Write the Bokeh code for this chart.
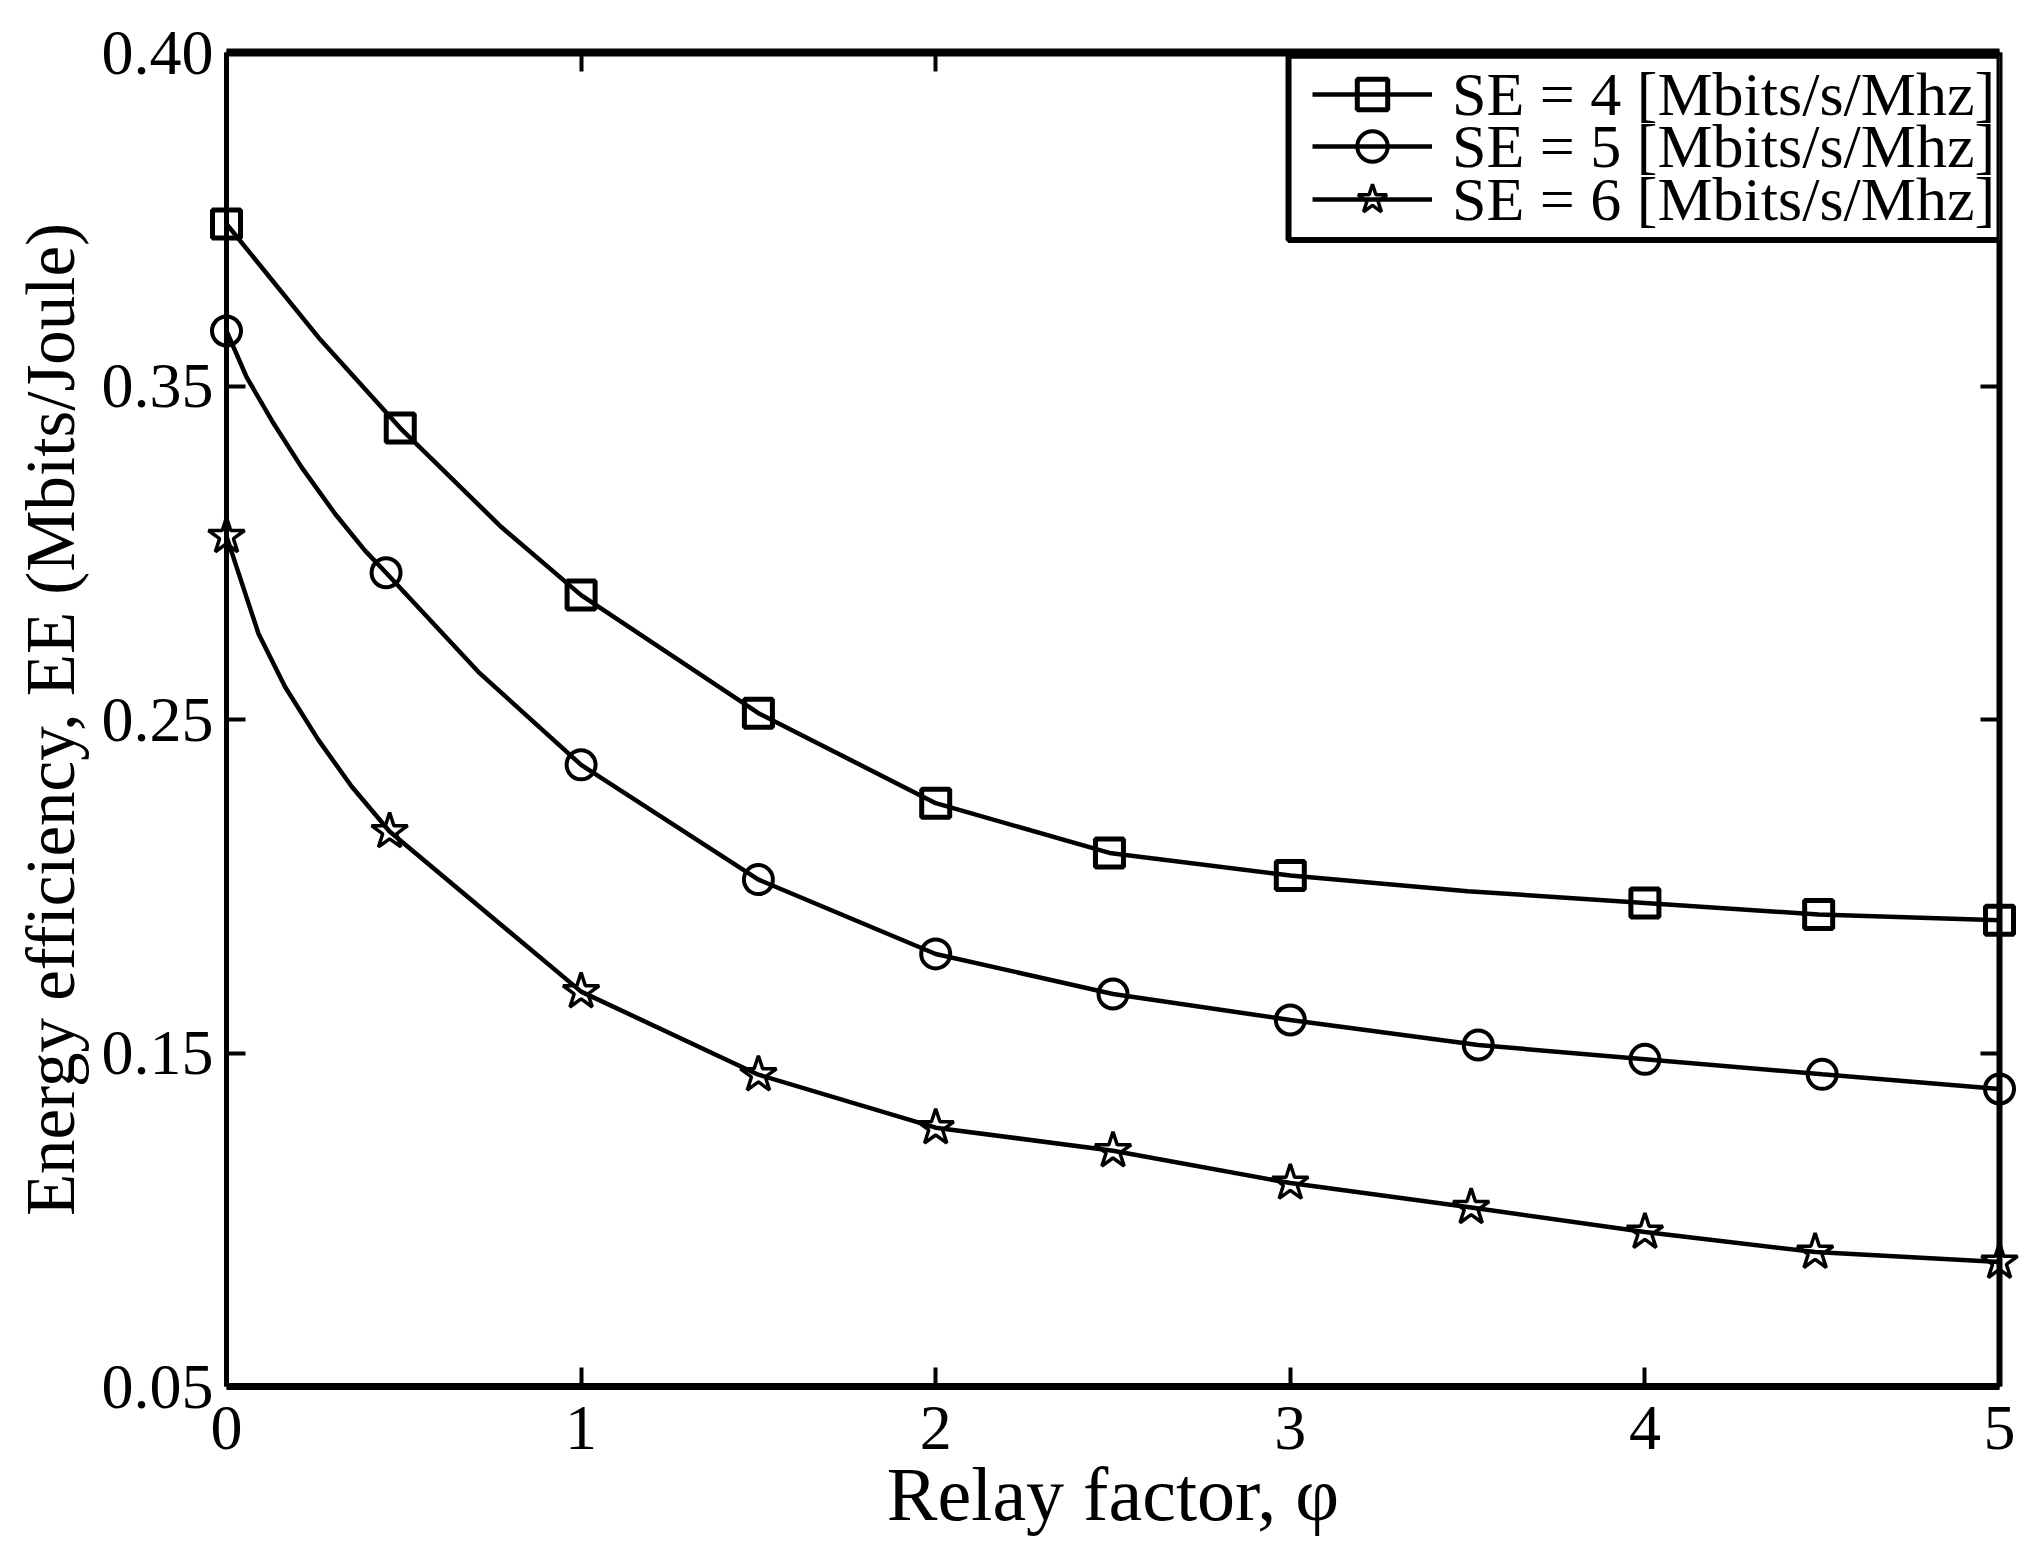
from bokeh.plotting import figure
from bokeh.models import (LinearAxis, FixedTicker, Legend, LegendItem,
                          BoxAnnotation, Range1d)
from bokeh.embed import file_html
from bokeh.resources import INLINE

# ---------------- data ----------------
# marker positions
se4_x = [0.0, 0.49, 1.0, 1.5, 2.0, 2.49, 3.0, 4.0, 4.49, 5.0]
se4_y = [0.3986, 0.3374, 0.2873, 0.2519, 0.2249, 0.2100, 0.2032, 0.1950, 0.1915, 0.1898]

se5_x = [0.0, 0.45, 1.0, 1.5, 2.0, 2.5, 3.0, 3.53, 4.0, 4.5, 5.0]
se5_y = [0.3665, 0.2940, 0.2364, 0.2020, 0.1797, 0.1677, 0.1599, 0.1524, 0.1481, 0.1436, 0.1392]

se6_x = [0.0, 0.46, 1.0, 1.5, 2.0, 2.5, 3.0, 3.51, 4.0, 4.48, 5.0]
se6_y = [0.3049, 0.2164, 0.1684, 0.1435, 0.1276, 0.1207, 0.1110, 0.1037, 0.0963, 0.0903, 0.0873]

# points (markers plus extra points read between them)
curve4_x = [0.0, 0.26, 0.49, 0.775, 1.0, 1.5, 2.0, 2.49, 3.0, 3.5, 4.0, 4.49, 5.0]
curve4_y = [0.3986, 0.3645, 0.3374, 0.3077, 0.2873, 0.2519, 0.2249, 0.2100, 0.2032, 0.1985, 0.1950, 0.1915, 0.1898]

curve5_x = [0.0, 0.057, 0.128, 0.212, 0.306, 0.39, 0.45, 0.71, 1.0, 1.5, 2.0, 2.5, 3.0, 3.53, 4.0, 4.5, 5.0]
curve5_y = [0.3665, 0.3526, 0.3396, 0.3256, 0.3117, 0.3007, 0.2940, 0.2643, 0.2364, 0.2020, 0.1797, 0.1677,
            0.1599, 0.1524, 0.1481, 0.1436, 0.1392]

curve6_x = [0.0, 0.09, 0.165, 0.259, 0.353, 0.46, 1.0, 1.5, 2.0, 2.5, 3.0, 3.51, 4.0, 4.48, 5.0]
curve6_y = [0.3049, 0.2758, 0.2598, 0.2439, 0.2299, 0.2164, 0.1684, 0.1435, 0.1276, 0.1207, 0.1110,
            0.1037, 0.0963, 0.0903, 0.0873]

series_labels = ["SE = 4 [Mbits/s/Mhz]", "SE = 5 [Mbits/s/Mhz]", "SE = 6 [Mbits/s/Mhz]"]

x_ticks = [0, 1, 2, 3, 4, 5]
x_tick_labels = ["0", "1", "2", "3", "4", "5"]
y_ticks = [0.05, 0.15, 0.25, 0.35, 0.45]
y_tick_labels = ["0.05", "0.15", "0.25", "0.35", "0.40"]

x_title = "Relay factor, φ"
y_title = "Energy efficiency, EE (Mbits/Joule)"

# ---------------- figure ----------------
FONT = "Liberation Serif"
FW, FH = 1773, 1334

p = figure(frame_width=FW, frame_height=FH,
           x_range=Range1d(0, 5), y_range=Range1d(0.05, 0.45),
           output_backend="svg", toolbar_location=None,
           min_border_left=226, min_border_right=20,
           min_border_top=52, min_border_bottom=150)
p.outline_line_color = None
p.grid.grid_line_color = None
p.background_fill_color = "white"
p.border_fill_color = "white"


def style_axis(ax, ticks, labels, lw, show):
    ax.ticker = FixedTicker(ticks=ticks)
    ax.axis_line_width = lw
    ax.axis_line_color = "black"
    ax.major_tick_in = 19
    ax.major_tick_out = 0
    ax.major_tick_line_width = 4
    ax.major_tick_line_color = "black"
    ax.minor_tick_line_color = None
    ax.major_label_text_font = FONT
    if show:
        ax.major_label_overrides = {t: s for t, s in zip(ticks, labels)}
        ax.major_label_text_font_size = "64px"
        ax.major_label_text_color = "black"
    else:
        ax.major_label_text_font_size = "0px"
        ax.major_label_text_color = None
        ax.major_label_standoff = 0


xb = p.xaxis[0]
yl = p.yaxis[0]
style_axis(xb, x_ticks, x_tick_labels, 7, True)
style_axis(yl, y_ticks, y_tick_labels, 5, True)
xb.major_label_standoff = 20
yl.major_label_standoff = 13

xb.axis_label = x_title
xb.axis_label_text_font = FONT
xb.axis_label_text_font_style = "normal"
xb.axis_label_text_font_size = "76px"
xb.axis_label_text_color = "black"
xb.axis_label_standoff = 0

yl.axis_label = y_title
yl.axis_label_text_font = FONT
yl.axis_label_text_font_style = "normal"
yl.axis_label_text_font_size = "69px"
yl.axis_label_text_color = "black"
yl.axis_label_standoff = 10

xt = LinearAxis()
style_axis(xt, x_ticks, x_tick_labels, 8, False)
p.add_layout(xt, "above")
yr = LinearAxis()
style_axis(yr, y_ticks, y_tick_labels, 6, False)
p.add_layout(yr, "right")

# ---------------- series ----------------
l4 = p.line(curve4_x, curve4_y, line_color="black", line_width=4.5)
l5 = p.line(curve5_x, curve5_y, line_color="black", line_width=4.5)
l6 = p.line(curve6_x, curve6_y, line_color="black", line_width=4.5)

m4 = p.scatter(se4_x, se4_y, marker="square", size=28, line_color="black",
               line_width=5, fill_color=None, level="overlay")
m5 = p.scatter(se5_x, se5_y, marker="circle", size=29, line_color="black",
               line_width=4, fill_color=None, level="overlay")
m6 = p.scatter(se6_x, se6_y, marker="star", size=38, line_color="black",
               line_width=3.5, fill_color=None, level="overlay")

# ---------------- legend ----------------
box = BoxAnnotation(left=2.995, right=5.0, top=0.449, bottom=0.3938,
                    fill_color="white", fill_alpha=1.0,
                    line_color="black", line_width=6, line_alpha=1.0)
p.add_layout(box)

row_offsets = [42, 94, 147]   # px below the frame top
GH = 76
for lab, rs, off in zip(series_labels, [[l4, m4], [l5, m5], [l6, m6]], row_offsets):
    lg = Legend(items=[LegendItem(label=lab, renderers=rs)],
                location=(1086, FH - off - GH // 2),
                glyph_width=120, glyph_height=GH, label_height=GH,
                label_standoff=20, padding=0, margin=0, spacing=0,
                border_line_alpha=0, background_fill_alpha=0,
                label_text_font=FONT, label_text_font_size="62px",
                label_text_color="black")
    p.add_layout(lg)

html = file_html(p, INLINE)
html = html.replace("</head>", "<style>html, body { overflow: hidden; }</style></head>", 1)
open("out.html", "w").write(html)
